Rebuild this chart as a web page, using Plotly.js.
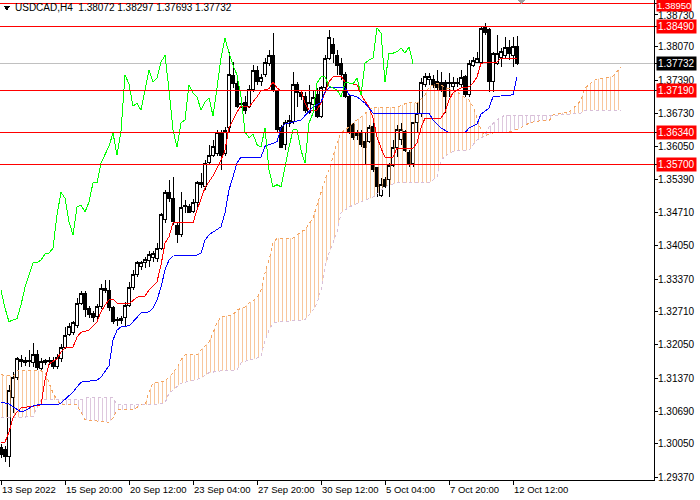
<!DOCTYPE html>
<html><head><meta charset="utf-8">
<script src="https://cdn.plot.ly/plotly-3.0.1.min.js"></script>
<style>
html,body{margin:0;padding:0;background:#fff;}
#chart{width:700px;height:500px;}
.boxlayer path{shape-rendering:crispEdges;}
.scatterlayer .lines path{shape-rendering:crispEdges;}
pattern path, pattern rect, pattern line{shape-rendering:crispEdges;}
.layer-above path, .layer-below path{shape-rendering:crispEdges;}
</style>
</head><body><div id="chart"></div>
<script>
const symbolTitle = "USDCAD,H4  1.38072 1.38297 1.37693 1.37732";

const openP = [1.2996,1.2992,1.2978,1.3097,1.3139,1.3174,1.3168,1.3170,1.3168,1.3184,
1.3156,1.3168,1.3172,1.3172,1.3160,1.3176,1.3200,1.3226,1.3230,1.3243,
1.3289,1.3309,1.3277,1.3267,1.3261,1.3281,1.3319,1.3315,1.3279,1.3253,
1.3253,1.3259,1.3285,1.3321,1.3346,1.3362,1.3370,1.3374,1.3382,1.3380,
1.3400,1.3457,1.3513,1.3501,1.3445,1.3427,1.3485,1.3485,1.3475,1.3493,
1.3528,1.3524,1.3574,1.3588,1.3592,1.3633,1.3592,1.3643,1.3748,1.3732,
1.3691,1.3695,1.3687,1.3720,1.3760,1.3736,1.3750,1.3774,1.3790,1.3716,
1.3643,1.3609,1.3651,1.3655,1.3730,1.3714,1.3706,1.3675,1.3691,1.3710,
1.3667,1.3724,1.3784,1.3811,1.3790,1.3774,1.3750,1.3706,1.3649,1.3627,
1.3633,1.3615,1.3615,1.3645,1.3562,1.3507,1.3538,1.3538,1.3568,1.3604,
1.3619,1.3635,1.3594,1.3572,1.3653,1.3673,1.3730,1.3740,1.3740,1.3736,
1.3734,1.3734,1.3732,1.3726,1.3734,1.3730,1.3746,1.3710,1.3770,1.3776,
1.3776,1.3847,1.3841,1.3736,1.3774,1.3786,1.3790,1.3805,1.3790,1.38072];
const highP = [1.3004,1.3000,1.3123,1.3150,1.3180,1.3184,1.3180,1.3194,1.3208,1.3194,
1.3178,1.3176,1.3180,1.3180,1.3186,1.3206,1.3241,1.3249,1.3253,1.3299,
1.3313,1.3313,1.3283,1.3273,1.3287,1.3327,1.3336,1.3336,1.3283,1.3261,
1.3263,1.3291,1.3332,1.3356,1.3374,1.3374,1.3382,1.3394,1.3394,1.3410,
1.3471,1.3518,1.3538,1.3544,1.3453,1.3513,1.3497,1.3489,1.3499,1.3536,
1.3552,1.3578,1.3609,1.3619,1.3639,1.3639,1.3645,1.3797,1.3776,1.3740,
1.3704,1.3708,1.3730,1.3770,1.3768,1.3752,1.3784,1.3801,1.3835,1.3720,
1.3649,1.3659,1.3669,1.3756,1.3736,1.3720,1.3716,1.3730,1.3720,1.3724,
1.3728,1.3790,1.3841,1.3825,1.3801,1.3784,1.3756,1.3710,1.3653,1.3639,
1.3639,1.3633,1.3649,1.3655,1.3564,1.3542,1.3544,1.3572,1.3619,1.3649,
1.3653,1.3639,1.3598,1.3655,1.3695,1.3744,1.3754,1.3754,1.3750,1.3760,
1.3756,1.3740,1.3754,1.3746,1.3744,1.3760,1.3750,1.3780,1.3786,1.3797,
1.3847,1.3855,1.3845,1.3797,1.3831,1.3805,1.3827,1.3821,1.3827,1.38297];
const lowP = [1.2976,1.2968,1.2958,1.3067,1.3133,1.3160,1.3162,1.3160,1.3160,1.3154,
1.3150,1.3164,1.3164,1.3156,1.3156,1.3170,1.3196,1.3222,1.3224,1.3239,
1.3285,1.3261,1.3259,1.3251,1.3255,1.3277,1.3309,1.3273,1.3247,1.3243,
1.3247,1.3241,1.3281,1.3315,1.3342,1.3356,1.3360,1.3362,1.3372,1.3372,
1.3396,1.3451,1.3493,1.3447,1.3410,1.3423,1.3471,1.3471,1.3471,1.3481,
1.3522,1.3518,1.3568,1.3584,1.3586,1.3558,1.3586,1.3633,1.3724,1.3683,
1.3683,1.3671,1.3683,1.3716,1.3730,1.3728,1.3746,1.3768,1.3716,1.3635,
1.3602,1.3598,1.3645,1.3651,1.3685,1.3699,1.3673,1.3671,1.3673,1.3663,
1.3663,1.3716,1.3780,1.3774,1.3750,1.3740,1.3704,1.3631,1.3619,1.3619,
1.3604,1.3568,1.3613,1.3554,1.3503,1.3503,1.3522,1.3503,1.3564,1.3584,
1.3609,1.3594,1.3564,1.3564,1.3633,1.3665,1.3726,1.3730,1.3724,1.3720,
1.3716,1.3673,1.3706,1.3720,1.3726,1.3726,1.3706,1.3706,1.3766,1.3774,
1.3774,1.3831,1.3716,1.3716,1.3770,1.3766,1.3784,1.3780,1.3766,1.37693];
const closeP = [1.2982,1.2978,1.3113,1.3139,1.3176,1.3170,1.3172,1.3172,1.3184,1.3158,
1.3170,1.3172,1.3170,1.3160,1.3178,1.3200,1.3224,1.3241,1.3249,1.3289,
1.3309,1.3275,1.3265,1.3259,1.3281,1.3319,1.3315,1.3279,1.3251,1.3255,
1.3257,1.3285,1.3321,1.3346,1.3370,1.3370,1.3376,1.3388,1.3390,1.3400,
1.3467,1.3513,1.3501,1.3453,1.3427,1.3483,1.3487,1.3473,1.3493,1.3532,
1.3532,1.3572,1.3588,1.3606,1.3633,1.3588,1.3637,1.3750,1.3732,1.3687,
1.3693,1.3679,1.3720,1.3760,1.3736,1.3744,1.3776,1.3790,1.3720,1.3639,
1.3604,1.3653,1.3659,1.3730,1.3714,1.3706,1.3679,1.3695,1.3704,1.3667,
1.3724,1.3784,1.3825,1.3794,1.3770,1.3750,1.3706,1.3635,1.3623,1.3631,
1.3609,1.3604,1.3643,1.3558,1.3524,1.3528,1.3524,1.3568,1.3604,1.3639,
1.3639,1.3598,1.3572,1.3653,1.3673,1.3734,1.3746,1.3746,1.3728,1.3724,
1.3720,1.3706,1.3734,1.3734,1.3732,1.3744,1.3710,1.3774,1.3780,1.3784,
1.3845,1.3835,1.3736,1.3794,1.3794,1.3797,1.3805,1.3794,1.3807,1.37732];

const tenkanIdx = [0,1,2,3,4,5,10,11,12,14,15,16,18,19,20,22,24,25,26,27,28,29,32,34,36,37,39,40,41,42,43,48,49,51,53,55,56,57,58,59,60,62,64,65,67,68,69,70,75,76,77,79,80,81,82,83,85,86,87,89,90,92,93,94,95,96,98,99,103,104,105,106,110,111,112,113,115,117,118,119,120,124,125,129];
const tenkanVal = [1.3008,1.3008,1.3028,1.3057,1.3069,1.3077,1.3083,1.3133,1.3166,1.3176,1.3190,1.3198,1.3200,1.3220,1.3230,1.3234,1.3251,1.3271,1.3285,1.3295,1.3297,1.3289,1.3287,1.3301,1.3303,1.3315,1.3332,1.3366,1.3410,1.3423,1.3451,1.3451,1.3477,1.3522,1.3546,1.3578,1.3598,1.3643,1.3659,1.3675,1.3687,1.3685,1.3706,1.3718,1.3722,1.3736,1.3724,1.3718,1.3718,1.3693,1.3679,1.3679,1.3693,1.3716,1.3736,1.3746,1.3748,1.3736,1.3734,1.3730,1.3710,1.3685,1.3663,1.3625,1.3602,1.3584,1.3584,1.3602,1.3602,1.3613,1.3643,1.3663,1.3663,1.3675,1.3699,1.3714,1.3724,1.3726,1.3734,1.3746,1.3774,1.3776,1.3784,1.3784];

const kijunIdx = [0,2,3,5,6,8,9,14,15,17,18,20,24,25,27,28,29,30,32,33,34,35,37,38,39,40,41,42,43,49,50,51,52,54,55,56,57,58,59,60,65,66,68,69,70,71,75,76,77,78,80,81,82,86,87,89,91,93,107,108,110,112,116,117,119,120,122,123,128,129];
const kijunVal = [1.3089,1.3085,1.3079,1.3069,1.3071,1.3081,1.3083,1.3083,1.3087,1.3101,1.3109,1.3129,1.3133,1.3139,1.3162,1.3214,1.3234,1.3241,1.3243,1.3251,1.3261,1.3269,1.3271,1.3279,1.3295,1.3321,1.3356,1.3376,1.3384,1.3386,1.3390,1.3416,1.3427,1.3437,1.3443,1.3471,1.3518,1.3544,1.3572,1.3584,1.3584,1.3606,1.3611,1.3615,1.3643,1.3651,1.3659,1.3667,1.3675,1.3685,1.3695,1.3716,1.3724,1.3724,1.3710,1.3706,1.3693,1.3673,1.3673,1.3659,1.3643,1.3633,1.3633,1.3643,1.3651,1.3671,1.3683,1.3706,1.3710,1.3746];

const spanAIdx = [0,3,4,10,11,12,13,14,15,19,21,27,28,29,33,35,36,37,38,41,42,43,44,45,46,49,50,52,53,54,55,58,59,61,62,64,65,66,67,68,69,73,75,76,78,79,80,81,82,83,84,85,87,88,90,92,93,99,102,104,106,107,109,112,114,115,117,118,119,120,121,123,125,127,130,131,133,136,137,138,140,142,143,144,145,146,147,148,149,151,152,153,154,155];
const spanAVal = [1.3144,1.3141,1.3152,1.3152,1.3148,1.3127,1.3107,1.3093,1.3083,1.3083,1.3053,1.3048,1.3057,1.3073,1.3073,1.3083,1.3083,1.3109,1.3127,1.3131,1.3139,1.3148,1.3158,1.3174,1.3184,1.3184,1.3194,1.3210,1.3228,1.3249,1.3261,1.3265,1.3275,1.3281,1.3289,1.3299,1.3315,1.3350,1.3376,1.3410,1.3420,1.3420,1.3433,1.3437,1.3461,1.3487,1.3513,1.3538,1.3558,1.3584,1.3613,1.3633,1.3645,1.3653,1.3665,1.3679,1.3685,1.3685,1.3695,1.3693,1.3710,1.3726,1.3734,1.3722,1.3716,1.3710,1.3699,1.3687,1.3663,1.3639,1.3627,1.3633,1.3633,1.3635,1.3643,1.3649,1.3655,1.3659,1.3657,1.3669,1.3673,1.3675,1.3683,1.3689,1.3699,1.3724,1.3730,1.3738,1.3742,1.3744,1.3746,1.3748,1.3756,1.3766];

const spanBIdx = [0,8,9,10,14,20,21,28,29,36,40,41,42,43,45,48,50,52,55,59,60,62,65,66,67,68,70,76,78,79,80,81,82,83,84,85,87,91,93,96,99,107,109,110,112,114,117,119,121,122,124,126,138,140,145,146,155];
const spanBVal = [1.3057,1.3059,1.3077,1.3093,1.3093,1.3093,1.3097,1.3097,1.3083,1.3083,1.3085,1.3087,1.3107,1.3113,1.3127,1.3133,1.3137,1.3148,1.3152,1.3154,1.3168,1.3174,1.3180,1.3214,1.3234,1.3249,1.3251,1.3255,1.3275,1.3289,1.3315,1.3362,1.3390,1.3410,1.3433,1.3471,1.3483,1.3497,1.3503,1.3524,1.3532,1.3532,1.3544,1.3578,1.3592,1.3598,1.3598,1.3619,1.3627,1.3645,1.3659,1.3669,1.3669,1.3669,1.3673,1.3679,1.3679];

const cloudRegimes = [[0,14,'bull'],[14,36,'bear'],[36,121,'bull'],[121,138,'bear'],[138,155,'bull']];
const chikouShift = 26;

const xTickIdx = [0,16,32,48,64,80,96,112,128];
const xTickLabels = ["13 Sep 2022","15 Sep 20:00","20 Sep 12:00","23 Sep 04:00","27 Sep 20:00","30 Sep 12:00","5 Oct 04:00","7 Oct 20:00","12 Oct 12:00"];

const yTickVals = [1.3873,1.3807,1.3739,1.3673,1.3605,1.3539,1.3471,1.3405,1.3337,1.3271,1.3205,1.3137,1.3069,1.3005,1.2937];
const yTickLabels = ["1.38730","1.38070","1.37390","1.36730","1.36050","1.35390","1.34710","1.34050","1.33370","1.32710","1.32050","1.31370","1.30690","1.30050","1.29370"];
const levelVals = [1.3895,1.3849,1.3719,1.3634,1.3570];
const levelLabels = ["1.38950","1.38490","1.37190","1.36340","1.35700"];
const lastPrice = 1.37732;
const lastLabel = "1.37732";

const FONT = "'Liberation Sans', Arial, sans-serif";
const barIdx = closeP.map((_, i) => i);

function seg(idx, val, a, b) {
  const x = [], y = [];
  for (let j = 0; j < idx.length; j++) {
    if (idx[j] >= a && idx[j] <= b) { x.push(idx[j]); y.push(val[j]); }
  }
  return {x, y};
}

const traces = [];
cloudRegimes.forEach(([a, b, kind]) => {
  const A = seg(spanAIdx, spanAVal, a, b), B = seg(spanBIdx, spanBVal, a, b);
  const lower = kind === 'bull' ? B : A, upper = kind === 'bull' ? A : B;
  const col = kind === 'bull' ? '#F4A460' : '#D8BFD8';
  const op = kind === 'bull' ? 0.62 : 0.85;
  traces.push({type:'scatter', mode:'lines', x:lower.x, y:lower.y, line:{width:0, color:col}, hoverinfo:'skip', showlegend:false});
  traces.push({type:'scatter', mode:'lines', x:upper.x, y:upper.y, line:{width:0, color:col}, fill:'tonexty',
    fillcolor:'rgba(0,0,0,0)',
    fillpattern:{shape:'|', size:4, solidity:0.25, fgcolor:col, bgcolor:'rgba(0,0,0,0)', fillmode:'overlay', fgopacity:op},
    hoverinfo:'skip', showlegend:false});
});

traces.push({type:'scatter', mode:'lines', x:spanAIdx, y:spanAVal, line:{color:'#F4A460', width:1, dash:'dot'}, hoverinfo:'skip'});
traces.push({type:'scatter', mode:'lines', x:spanBIdx, y:spanBVal, line:{color:'#D8BFD8', width:1, dash:'dot'}, hoverinfo:'skip'});

traces.push({type:'candlestick', x:barIdx, open:openP, high:highP, low:lowP, close:closeP,
  increasing:{line:{color:'#000000', width:1}, fillcolor:'#FFFFFF'},
  decreasing:{line:{color:'#000000', width:1}, fillcolor:'#000000'},
  whiskerwidth:0, hoverinfo:'skip', showlegend:false});

traces.push({type:'scatter', mode:'lines', x:tenkanIdx, y:tenkanVal, line:{color:'#FF0000', width:1}, hoverinfo:'skip'});
traces.push({type:'scatter', mode:'lines', x:kijunIdx, y:kijunVal, line:{color:'#0000FF', width:1}, hoverinfo:'skip'});
const chikouY = closeP.slice(chikouShift);
const chikouX = chikouY.map((_, j) => barIdx[j]);
traces.push({type:'scatter', mode:'lines', x:chikouX, y:chikouY, line:{color:'#00FF00', width:1}, hoverinfo:'skip'});

const shapes = [];
shapes.push({type:'line', xref:'paper', x0:0, x1:1, yref:'y', y0:lastPrice, y1:lastPrice, line:{color:'#C0C0C0', width:1}, layer:'below'});
levelVals.forEach(v => shapes.push({type:'line', xref:'paper', x0:0, x1:1, yref:'y', y0:v, y1:v, line:{color:'#FF0000', width:1}, layer:'above'}));
shapes.push({type:'path', xref:'paper', yref:'paper', path:'M 0.0061 0.9875 L 0.0153 0.9875 L 0.0107 0.9771 Z', fillcolor:'#000000', line:{width:0}});
shapes.push({type:'path', xref:'paper', yref:'paper', path:'M 0.7905 1 L 0.8043 1 L 0.7974 0.9917 Z', fillcolor:'#A0A0A0', line:{width:0}});

const annotations = [];
annotations.push({xref:'paper', yref:'paper', x:0.0205, y:0.9844, xanchor:'left', yanchor:'middle', text:symbolTitle, showarrow:false,
  font:{family:FONT, size:10, color:'#000000'}});
xTickIdx.forEach((v, j) => annotations.push({xref:'x', yref:'paper', x:v, y:0, xanchor:'left', yanchor:'top', yshift:-2, xshift:-1,
  text:xTickLabels[j], showarrow:false, font:{family:FONT, size:9.5, color:'#000000'}}));
yTickVals.forEach((v, j) => annotations.push({xref:'paper', yref:'y', x:1, y:v, xanchor:'left', yanchor:'middle', xshift:3,
  yshift:(j === 0 ? -1 : 0), borderpad:0,
  text:yTickLabels[j], showarrow:false, font:{family:FONT, size:10, color:'#000000'}}));
levelVals.forEach((v, j) => annotations.push({xref:'paper', yref:'y', x:1, y:v, xanchor:'left', yanchor:'middle', xshift:2,
  yshift:(j === 0 ? -2.5 : 0), borderpad:(j === 0 ? 0 : 1),
  text:levelLabels[j], showarrow:false, bgcolor:'#FF0000', font:{family:FONT, size:(j === 0 ? 9.5 : 10), color:'#FFFFFF'}}));
annotations.push({xref:'paper', yref:'y', x:1, y:lastPrice, xanchor:'left', yanchor:'middle', xshift:2,
  text:lastLabel, showarrow:false, bgcolor:'#000000', borderpad:1, font:{family:FONT, size:10, color:'#FFFFFF'}});

const layout = {
  width:700, height:500, margin:{l:0, r:46, t:0, b:20},
  paper_bgcolor:'#FFFFFF', plot_bgcolor:'#FFFFFF', showlegend:false, hovermode:false,
  boxgap:0.25,
  font:{family:FONT, size:10, color:'#000'},
  xaxis:{range:[-0.25, 163.25], showgrid:false, zeroline:false, showline:true, linecolor:'#000', linewidth:1,
    ticks:'outside', ticklen:4, tickcolor:'#000', tickvals:xTickIdx, showticklabels:false,
    rangeslider:{visible:false}, fixedrange:true},
  yaxis:{range:[1.29312, 1.39016], side:'right', showgrid:false, zeroline:false, showline:true, linecolor:'#000', linewidth:1,
    ticks:'outside', ticklen:3, tickcolor:'#000', tickvals:yTickVals.concat(levelVals, [lastPrice]), showticklabels:false, fixedrange:true},
  shapes:shapes, annotations:annotations
};

Plotly.newPlot('chart', traces, layout, {staticPlot:true, displayModeBar:false});
</script>
</body></html>
